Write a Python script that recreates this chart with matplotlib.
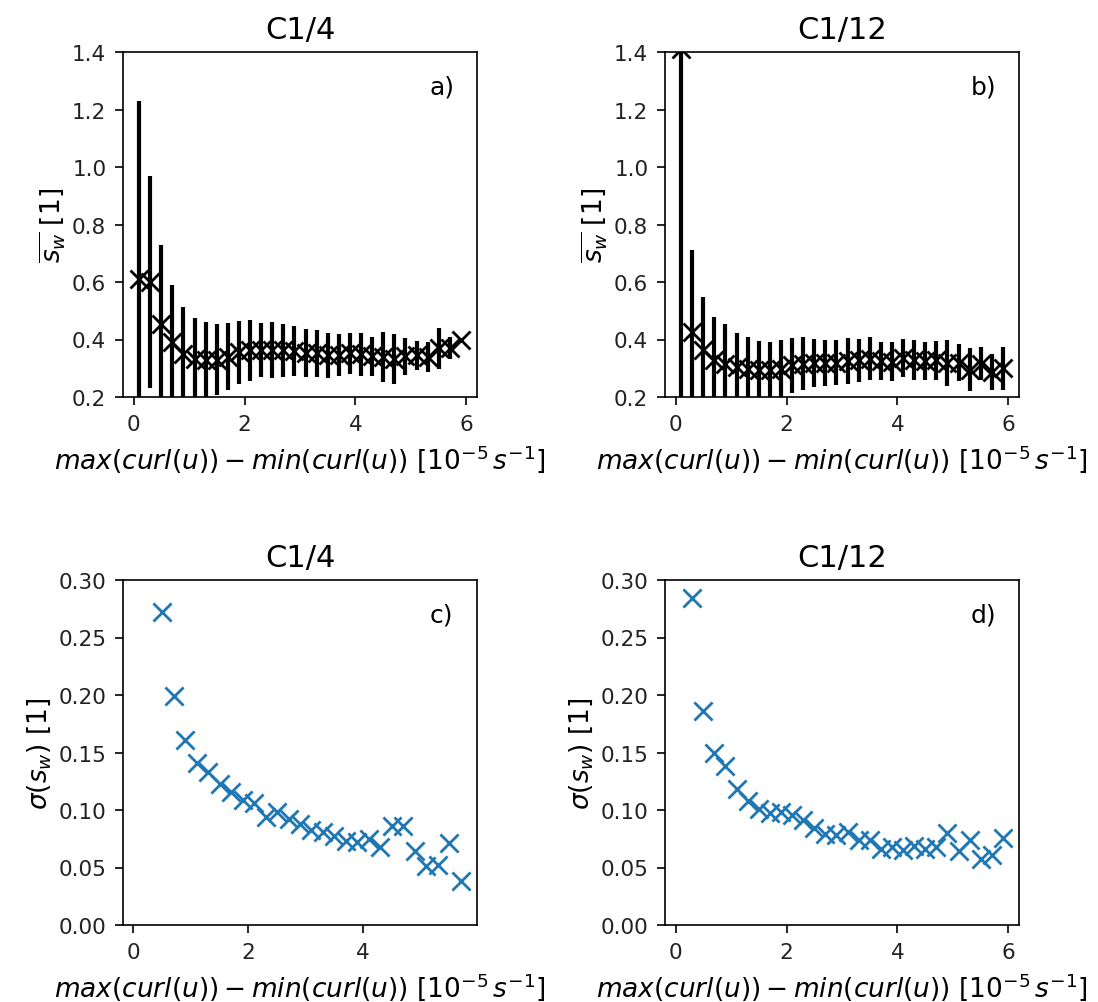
import numpy as np
import matplotlib
matplotlib.use('Agg')
import matplotlib.pyplot as plt

# bin centres of max(curl)-min(curl) [1e-5 s-1]
curl_bins = [0.1, 0.3, 0.5, 0.7, 0.9, 1.1, 1.3, 1.5, 1.7, 1.9,
             2.1, 2.3, 2.5, 2.7, 2.9, 3.1, 3.3, 3.5, 3.7, 3.9,
             4.1, 4.3, 4.5, 4.7, 4.9, 5.1, 5.3, 5.5, 5.7, 5.9]

# C1/4
mean_q = [0.61, 0.60, 0.455, 0.391, 0.351, 0.333, 0.328, 0.330, 0.340, 0.355,
          0.362, 0.364, 0.364, 0.362, 0.360, 0.354, 0.352, 0.345, 0.345, 0.352,
          0.348, 0.342, 0.339, 0.332, 0.342, 0.345, 0.338, 0.370, 0.370, 0.397]
std_q = [0.62, 0.368, 0.272, 0.199, 0.161, 0.141, 0.133, 0.1225, 0.116, 0.109,
         0.106, 0.094, 0.098, 0.092, 0.088, 0.083, 0.081, 0.0775, 0.073, 0.072,
         0.0746, 0.068, 0.0865, 0.0857, 0.0647, 0.0514, 0.0523, 0.0717, 0.0386, np.nan]

# C1/12
mean_t = [1.41, 0.426, 0.362, 0.328, 0.316, 0.304, 0.299, 0.293, 0.293, 0.299,
          0.310, 0.316, 0.318, 0.318, 0.320, 0.325, 0.327, 0.333, 0.326, 0.323,
          0.336, 0.329, 0.325, 0.328, 0.320, 0.319, 0.295, 0.316, 0.287, 0.300]
std_t = [1.3, 0.2846, 0.1864, 0.1495, 0.138, 0.118, 0.108, 0.1008, 0.0973, 0.098,
         0.096, 0.0915, 0.084, 0.079, 0.078, 0.081, 0.074, 0.074, 0.066, 0.068,
         0.065, 0.0688, 0.066, 0.068, 0.080, 0.064, 0.074, 0.057, 0.061, 0.0755]

titles = ['C1/4', 'C1/12']
xlab = r'$max(curl(u)) - min(curl(u))$ [$10^{-5}\,s^{-1}$]'

fig = plt.figure(figsize=(10.98, 10.03), dpi=100)
W, H = 1098, 1003
lefts = [123, 665]
tops = [53, 581]
aw, ah = 354, 345

axes = {}
for r, top in enumerate(tops):
    for c, left in enumerate(lefts):
        axes[(r, c)] = fig.add_axes([left / W, 1 - (top + ah) / H, aw / W, ah / H])

means = [mean_q, mean_t]
stds = [std_q, std_t]
letters = [['a)', 'b)'], ['c)', 'd)']]

for c in range(2):
    # top row: mean with std error bars
    ax = axes[(0, c)]
    ax.errorbar(curl_bins, means[c], yerr=stds[c], fmt='x', color='k',
                ecolor='k', elinewidth=3, markersize=13, mew=2)
    ax.set_ylim(0.2, 1.4)
    ax.set_ylabel(r'$\overline{s_w}$ [1]', fontsize=19)

    # bottom row: std
    ax2 = axes[(1, c)]
    ax2.scatter(curl_bins, stds[c], marker='x', s=170, linewidths=2, color='tab:blue')
    ax2.set_ylim(0, 0.3)
    ax2.set_ylabel(r'$\sigma(s_w)$ [1]', fontsize=19)

    for r in range(2):
        a = axes[(r, c)]
        a.set_title(titles[c], fontsize=22, pad=10)
        a.set_xlabel(xlab, fontsize=19, labelpad=6)
        a.tick_params(labelsize=15.5, length=6, width=1.2, pad=6, labelcolor='#222222')
        for sp in a.spines.values():
            sp.set_linewidth(1.2)
        a.text(0.9, 0.9, letters[r][c], transform=a.transAxes, fontsize=18,
               ha='center', va='center')

fig.savefig('out.png', dpi=100)
